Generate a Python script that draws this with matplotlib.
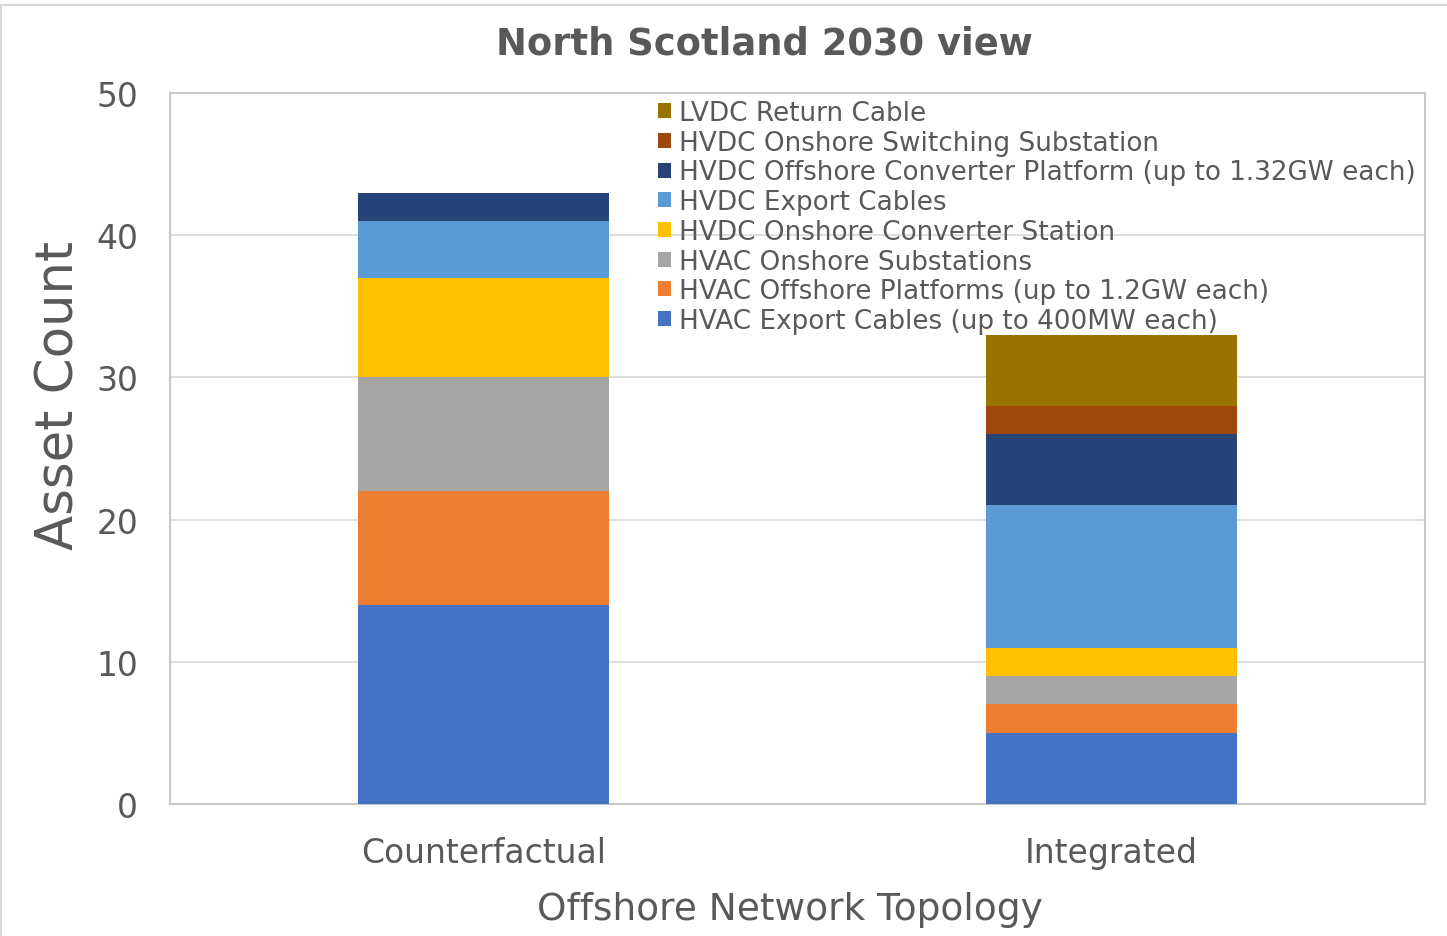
import matplotlib.pyplot as plt
import matplotlib.patches as mpatches
import numpy as np

categories = ['Counterfactual', 'Integrated']
series_names = ['HVAC Export Cables (up to 400MW each)',
                'HVAC Offshore Platforms (up to 1.2GW each)',
                'HVAC Onshore Substations',
                'HVDC Onshore Converter Station',
                'HVDC Export Cables',
                'HVDC Offshore Converter Platform (up to 1.32GW each)',
                'HVDC Onshore Switching Substation',
                'LVDC Return Cable']
hvac_export = [14, 5]
hvac_platforms = [8, 2]
hvac_onshore = [8, 2]
hvdc_converter_station = [7, 2]
hvdc_export = [4, 10]
hvdc_platform = [2, 5]
hvdc_switching = [0, 2]
lvdc_return = [0, 5]
colors = ['#4472C4', '#ED7D31', '#A5A5A5', '#FFC000',
          '#5B9BD5', '#264478', '#9E480E', '#997300']

values = [hvac_export, hvac_platforms, hvac_onshore, hvdc_converter_station,
          hvdc_export, hvdc_platform, hvdc_switching, lvdc_return]

txt = '#595959'
fig = plt.figure(figsize=(14.47, 9.37), dpi=100)
ax = fig.add_axes([170/1447, 1-805/937, 1255/1447, 711/937])

x = np.arange(len(categories))
bottom = np.zeros(len(categories))
handles = []
for name, v, c in zip(series_names, values, colors):
    b = ax.bar(x, v, 0.4, bottom=bottom, color=c, label=name, zorder=3)
    handles.append(b)
    bottom += np.array(v)

ax.set_xlim(-0.5, 1.5)
ax.set_ylim(0, 50)
ax.set_yticks([0, 10, 20, 30, 40, 50])
ax.set_xticks(x)
ax.set_xticklabels(categories)
ax.tick_params(axis='both', length=0, colors=txt)
ax.tick_params(axis='y', labelsize=23.8, pad=23)
ax.tick_params(axis='x', labelsize=23.8, pad=23)
ax.grid(axis='y', color='#d9d9d9', linewidth=1.2, zorder=0)
for s in ax.spines.values():
    s.set_color('#c8c8c8')
    s.set_linewidth(1.5)

ax.set_ylabel('Asset Count', fontsize=37, color=txt)
ax.yaxis.set_label_coords((85-170)/1255, (805-395)/711)
ax.set_xlabel('Offshore Network Topology', fontsize=27, color=txt)
ax.xaxis.set_label_coords((790-170)/1255, -(910-805)/711)
ax.xaxis.label.set_va('center')
fig.suptitle('North Scotland 2030 view', fontsize=26.6, fontweight='bold',
             color=txt, x=764.5/1447, y=1-44/937, va='center')

leg = fig.legend(handles[::-1], series_names[::-1], loc='upper left',
                 bbox_to_anchor=(645/1447, 1-88/937), frameon=False,
                 fontsize=18.9, handlelength=0.5, handleheight=0.5,
                 handletextpad=0.3, labelspacing=0.14, borderpad=0)
for t in leg.get_texts():
    t.set_color(txt)

# outer chart border
fig.patches.append(mpatches.Rectangle((0.0007, -0.01), 1.01, 1.01 - 6/937,
                                      transform=fig.transFigure, fill=False,
                                      edgecolor='#d9d9d9', linewidth=1.5))

fig.savefig('out.png', dpi=100)
